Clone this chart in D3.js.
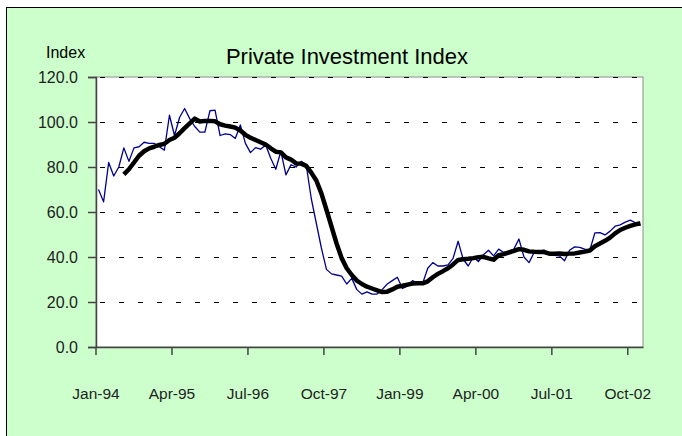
<!DOCTYPE html>
<html>
<head>
<meta charset="utf-8">
<script src="https://cdn.jsdelivr.net/npm/d3@7"></script>
<style>
  html, body { margin: 0; padding: 0; background: #ffffff; }
  svg { display: block; }
  text { font-family: "Liberation Sans", Arial, sans-serif; }
</style>
</head>
<body>
<svg id="chart" width="682" height="436"></svg>
<script>
// ---- Data (monthly, Jan-94 .. Dec-02) ----
const startYear = 1994;
const monthNames = ["Jan","Feb","Mar","Apr","May","Jun","Jul","Aug","Sep","Oct","Nov","Dec"];
const categories = d3.range(108).map(i => monthNames[i % 12] + "-" + String((startYear + Math.floor(i / 12)) % 100).padStart(2, "0"));

const indexValues = [
  70, 64.5, 82, 76, 80, 88.5, 82.5, 88.5, 89, 91, 90.5, 90.5,
  89, 87.5, 103, 94, 102, 106, 101.5, 98, 95.5, 95.5, 105, 105.3,
  94, 94.7, 94.4, 92.7, 98.7, 90.5, 86.4, 88.6, 87.9, 89.8, 83.9, 79,
  87, 76.5, 81, 80, 82.5, 81, 66, 55, 44, 34.5, 32.5, 32,
  31.5, 28, 30.5, 25.5, 23.5, 24.5, 23.5, 23.5, 25.5, 28, 29.5, 31,
  26, 27, 29.5, 28.3, 28.3, 35, 37.5, 36, 36, 36.5, 39.4, 47,
  39, 36, 40, 38, 41, 43, 40.5, 43.5, 42, 42.5, 43.5, 48,
  40, 37.5, 42, 42.6, 43, 41.5, 40.7, 40.5, 38.3, 43, 44.5, 44.3,
  43.5, 43, 50.7, 50.8, 49.8, 51.5, 53.7, 54.3, 55.5, 56.4, 55.2, 54
];

const trendValues = [
  null, null, null, null, null, 76.7, 79, 82, 85, 87, 88.3, 89,
  89.8, 90.3, 92, 93, 95, 97.3, 99.4, 101.5, 100.2, 100.5, 100.5, 100.3,
  99, 98.4, 98, 97.5, 96.2, 94.3, 93, 92, 91, 90, 88.3, 86.8,
  86.5, 84.3, 83.3, 81.6, 81.5, 80.5, 77.5, 74, 68.3, 61, 53.5, 46,
  39.5, 35, 32, 29.5, 28, 26.8, 26, 25.2, 24.4, 24.6, 25.6, 26.8,
  27.2, 27.7, 28.2, 28.3, 28.3, 29.2, 31, 32.5, 33.7, 35, 36.7, 38.7,
  39, 39.2, 39.5, 39.9, 40.1, 39.4, 38.8, 40.8, 41.3, 42, 42.7, 43.5,
  43.2, 42.5, 42.3, 42.2, 42.2, 41.5, 41.5, 41.6, 41.3, 41.5, 41.6, 42,
  42.4, 42.9, 44.8, 46, 47.2, 48.6, 50.5, 52, 53, 53.8, 54.5, 55
];

const xTickLabels = ["Jan-94", "Apr-95", "Jul-96", "Oct-97", "Jan-99", "Apr-00", "Jul-01", "Oct-02"];
const yTicks = [0, 20, 40, 60, 80, 100, 120];
const titleText = "Private Investment Index";
const yAxisTitle = "Index";

// ---- Layout ----
const svg = d3.select("#chart");
const plot = { left: 96, right: 643, top: 77, bottom: 347 };

// outer chart area
svg.append("rect")
  .attr("x", 6.5).attr("y", 7.5)
  .attr("width", 700).attr("height", 450)
  .attr("fill", "#CCFFCC").attr("stroke", "#000").attr("stroke-width", 1);

// scales
const x = d3.scaleBand().domain(categories).range([plot.left, plot.right]).paddingInner(0).paddingOuter(0);
const xc = d => x(d) + x.bandwidth() / 2;
const y = d3.scaleLinear().domain([0, 120]).range([plot.bottom, plot.top]);

// plot area
svg.append("rect")
  .attr("x", plot.left).attr("y", plot.top)
  .attr("width", plot.right - plot.left).attr("height", plot.bottom - plot.top)
  .attr("fill", "#fff").attr("stroke", "#8c8c8c").attr("stroke-width", 1);

// gridlines
svg.append("g").selectAll("line")
  .data(yTicks.filter(d => d > 0))
  .join("line")
  .attr("x1", plot.left).attr("x2", plot.right)
  .attr("y1", d => Math.round(y(d)) + 0.5).attr("y2", d => Math.round(y(d)) + 0.5)
  .attr("stroke", "#000").attr("stroke-width", 1)
  .attr("stroke-dasharray", "5,14")
  .attr("stroke-dashoffset", -4);

// y axis
const yAxis = d3.axisLeft(y).tickValues(yTicks).tickFormat(d3.format(".1f")).tickSize(8).tickPadding(10);
const gy = svg.append("g").attr("transform", `translate(${plot.left},0)`).call(yAxis);
gy.select(".domain").attr("stroke", "#444").attr("stroke-width", 1.5);
gy.selectAll(".tick line").attr("stroke", "#444").attr("stroke-width", 1.5);
gy.selectAll(".tick text").attr("font-size", 16).attr("fill", "#222")
  .attr("font-family", "'Liberation Sans', Arial, sans-serif");

// x axis (ticks at category boundaries every 15 months)
const xAxis = d3.axisBottom(x).tickValues(xTickLabels).tickSize(8).tickPadding(33).tickSizeOuter(0);
const gx = svg.append("g").attr("transform", `translate(0,${plot.bottom})`).call(xAxis);
gx.selectAll(".tick").attr("transform", d => `translate(${x(d)},0)`);
gx.select(".domain").attr("stroke", "#444").attr("stroke-width", 1.5);
gx.selectAll(".tick line").attr("stroke", "#444").attr("stroke-width", 1.5);
gx.selectAll(".tick text").attr("font-size", 15.5).attr("fill", "#222")
  .attr("font-family", "'Liberation Sans', Arial, sans-serif");

// lines
const lineIdx = d3.line()
  .x((d, i) => xc(categories[i]))
  .y(d => y(d));
svg.append("path")
  .datum(indexValues)
  .attr("d", lineIdx)
  .attr("fill", "none").attr("stroke", "#000090").attr("stroke-width", 1.3)
  .attr("stroke-linejoin", "round");

const trendPts = trendValues.map((v, i) => ({ c: categories[i], v })).filter(d => d.v !== null);
svg.append("path")
  .datum(trendPts)
  .attr("d", d3.line().x(d => xc(d.c)).y(d => y(d.v)))
  .attr("fill", "none").attr("stroke", "#000").attr("stroke-width", 4.5)
  .attr("stroke-linejoin", "round").attr("stroke-linecap", "butt");

// titles
svg.append("text")
  .attr("x", 347).attr("y", 64)
  .attr("text-anchor", "middle")
  .attr("font-size", 22).attr("fill", "#000")
  .text(titleText);

svg.append("text")
  .attr("x", 46).attr("y", 58)
  .attr("font-size", 16).attr("fill", "#000")
  .text(yAxisTitle);
</script>
</body>
</html>
